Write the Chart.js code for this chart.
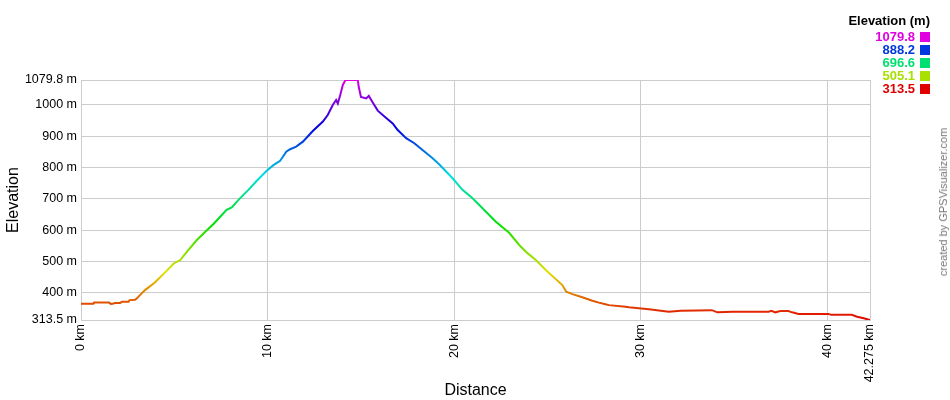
<!DOCTYPE html>
<html>
<head>
<meta charset="utf-8">
<script src="https://cdn.jsdelivr.net/npm/chart.js@4.4.1/dist/chart.umd.min.js"></script>
<style>
  body { margin: 0; background: #fff; font-family: "Liberation Sans", Arial, sans-serif; }
  #wrap { position: relative; width: 950px; height: 400px; }
  #legend { position: absolute; right: 20px; top: 13px; text-align: right; }
  #legend .head { font-weight: bold; font-size: 13px; line-height: 16px; color: #000; margin-bottom: 1px; }
  #legend .row { font-weight: bold; font-size: 13px; line-height: 13px; height: 13px; display: flex; justify-content: flex-end; align-items: center; }
  #legend .sw { width: 10px; height: 10px; margin-left: 5px; }
  #credit { position: absolute; left: 943px; top: 202px; transform: translate(-50%, -50%) rotate(-90deg);
            white-space: nowrap; font-size: 11px; color: #777; }
</style>
</head>
<body>
<div id="wrap">
  <canvas id="chart" width="950" height="400"></canvas>
  <div id="legend"><div class="head">Elevation (m)</div></div>
  <div id="credit">created by GPSVisualizer.com</div>
</div>
<script>
// distance along the route (km) and elevation (m)
const DIST_KM = [
  0, 0.66, 0.7, 1.5, 1.6, 1.75, 1.8, 2.1, 2.2, 2.55, 2.6, 2.9, 3.0, 3.16, 3.43, 3.97,
  4.6, 4.97, 5.32, 5.68, 6.21, 6.66, 7.1, 7.8, 8.08, 8.44, 8.97, 9.42, 9.95, 10.31, 10.67,
  11.0, 11.18, 11.53, 11.89, 12.42, 12.96, 13.22, 13.49, 13.67, 13.76, 13.89, 14.03, 14.17,
  14.83, 14.88, 15.0, 15.28, 15.42, 15.64, 15.9, 16.26, 16.7, 16.97, 17.42, 17.86, 18.3,
  18.84, 19.2, 19.91, 20.44, 20.98, 21.7, 22.23, 22.94, 23.48, 23.92, 24.37, 24.9, 25.44,
  25.79, 26.0, 26.33, 26.86, 27.4, 27.75, 28.1, 28.29, 29.18, 29.36, 30.43, 31.5, 32.12,
  33.8, 34.1, 34.9, 36.84, 37.0, 37.2, 37.47, 37.9, 38.1, 38.45, 40.05, 40.2, 41.3, 41.58,
  41.94, 42.275
]
const ELEV_M = [
  365, 365, 369, 369, 365, 366, 368, 368, 372, 372, 377, 378, 383, 393, 409, 434,
  471, 494, 505, 532, 569, 595, 620, 665, 673, 697, 729, 758, 790, 808, 822,
  851, 858, 867, 883, 917, 947, 968, 1000, 1016, 1005, 1032, 1064, 1079.8,
  1079.8, 1058, 1026, 1021, 1029, 1007, 982, 963, 941, 920, 894, 878, 856,
  830, 810, 766, 729, 702, 659, 627, 592, 553, 527, 505, 473, 444,
  425, 404, 396, 386, 375, 369, 364, 361, 356, 354, 348, 340, 343,
  345, 338, 340, 340, 343, 338, 342, 342, 338, 333, 333, 330, 330, 324,
  319, 313.5
]

const Y_MIN = 313.5
const Y_MAX = 1079.8
const X_MAX = 42.275
const Y_TICKS = [313.5, 400, 500, 600, 700, 800, 900, 1000, 1079.8]
const X_TICKS = [0, 10, 20, 30, 40, 42.275]
const LEGEND_VALUES = [1079.8, 888.2, 696.6, 505.1, 313.5]

const FONT = "'Liberation Sans', Arial, sans-serif"
const GRID = "#cccccc"

// red at the lowest point, through the hue wheel to magenta at the top
function elevColor(e) {
  const h = 300 * (e - Y_MIN) / (Y_MAX - Y_MIN)
  return `hsl(${h.toFixed(1)}, 100%, 44%)`
}

const legend = document.getElementById("legend")
LEGEND_VALUES.forEach((v) => {
  const row = document.createElement("div")
  row.className = "row"
  row.style.color = elevColor(v)
  row.innerHTML = `<span>${v.toFixed(1)}</span><span class="sw" style="background:${elevColor(v)}"></span>`
  legend.appendChild(row)
})

const points = DIST_KM.map((d, i) => ({ x: d, y: ELEV_M[i] }))

new Chart(document.getElementById("chart").getContext("2d"), {
  type: "line",
  data: {
    datasets: [{
      data: points,
      borderWidth: 2,
      pointRadius: 0,
      tension: 0,
      fill: false,
      borderColor: (ctx) => {
        const chart = ctx.chart
        if (!chart.chartArea) return elevColor(Y_MIN)
        const y = chart.scales.y
        const g = chart.ctx.createLinearGradient(0, y.getPixelForValue(Y_MIN), 0, y.getPixelForValue(Y_MAX))
        for (let i = 0; i <= 30; i++) g.addColorStop(i / 30, `hsl(${i * 10}, 100%, 44%)`)
        return g
      }
    }]
  },
  options: {
    responsive: false,
    devicePixelRatio: 1,
    animation: false,
    layout: { padding: { top: 80, right: 80, left: 0, bottom: 0 } },
    plugins: { legend: { display: false }, tooltip: { enabled: false } },
    scales: {
      x: {
        type: "linear",
        min: 0,
        max: X_MAX,
        afterBuildTicks: (s) => { s.ticks = X_TICKS.map((v) => ({ value: v })) },
        afterFit: (s) => { s.height = 80 },
        grid: { color: GRID, drawTicks: false },
        border: { color: GRID },
        ticks: {
          autoSkip: false,
          minRotation: 90,
          maxRotation: 90,
          padding: 4,
          color: "#000",
          font: { family: FONT, size: 12.5 },
          callback: (v) => `${v} km`
        },
        title: {
          display: true,
          text: "Distance",
          color: "#000",
          font: { family: FONT, size: 16 },
          padding: { top: 0, bottom: 0 }
        }
      },
      y: {
        type: "linear",
        min: Y_MIN,
        max: Y_MAX,
        afterBuildTicks: (s) => { s.ticks = Y_TICKS.map((v) => ({ value: v })) },
        afterFit: (s) => { s.width = 81 },
        grid: { color: GRID, drawTicks: false },
        border: { color: GRID },
        ticks: {
          padding: 4,
          color: "#000",
          font: { family: FONT, size: 12.5 },
          callback: (v) => `${v} m`
        },
        title: {
          display: true,
          text: "Elevation",
          color: "#000",
          font: { family: FONT, size: 16 },
          padding: { top: 4, bottom: 4 }
        }
      }
    }
  }
})
</script>
</body>
</html>
